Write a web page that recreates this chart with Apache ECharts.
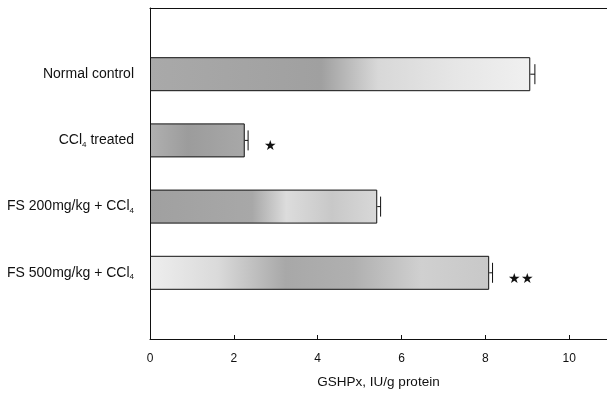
<!DOCTYPE html>
<html><head><meta charset="utf-8">
<script src="https://cdn.jsdelivr.net/npm/echarts@6/dist/echarts.min.js"></script>
<style>html,body{margin:0;padding:0;background:#fff;overflow:hidden}#c{width:607px;height:394px}</style>
</head><body><div id="c"></div>
<script>
const categories = ['', 'Normal control', 'CCl4 treated', 'FS 200mg/kg + CCl4', 'FS 500mg/kg + CCl4', ''];
const values = [null, 9.07, 2.26, 5.42, 8.09, null];
const errors = [null, 0.11, 0.08, 0.08, 0.08, null];
const signif = ['', '', '★', '', '★★', ''];
const xTicks = [0, 2, 4, 6, 8, 10];

const fills = [
  null,
  [[0,'#a9a9a9'],[0.45,'#a0a0a0'],[0.6,'#d8d8d8'],[0.8,'#e6e6e6'],[1,'#f0f0f0']],
  [[0,'#b0b0b0'],[0.4,'#9c9c9c'],[1,'#a8a8a8']],
  [[0,'#a0a0a0'],[0.45,'#a8a8a8'],[0.6,'#dcdcdc'],[0.8,'#c8c8c8'],[1,'#d8d8d8']],
  [[0,'#eeeeee'],[0.2,'#dadada'],[0.4,'#a8a8a8'],[0.6,'#b0b0b0'],[0.8,'#d0d0d0'],[1,'#c8c8c8']]
];

function fmtCat(s){ return s.replace(/CCl4/g, 'CCl{sub|4}'); }

const barData = values.map((v,i)=> v==null ? null : {
  value: v,
  itemStyle: {color: new echarts.graphic.LinearGradient(0,0,1,0, fills[i].map(s=>({offset:s[0],color:s[1]}))), borderColor:'#111', borderWidth:1},
  label: {show: signif[i] !== '', formatter: signif[i]}
});

const errData = values.map((v,i)=> v==null ? null : [v, i, errors[i]]).filter(d=>d);

const chart = echarts.init(document.getElementById('c'));
chart.setOption({
  animation: false,
  textStyle: {fontFamily: 'Liberation Sans, Arial, sans-serif'},
  grid: {left: 150, width: 457, top: 8, height: 336},
  xAxis: [{
    type: 'value', min: 0, max: 10.9, interval: 2,
    axisLine: {show: true, lineStyle: {color: '#111'}},
    axisTick: {show: true, inside: true, length: 4, lineStyle: {color: '#111'}},
    axisLabel: {color: '#111', fontSize: 12, margin: 14, showMaxLabel: false,
      formatter: v => xTicks.includes(v) ? String(v) : ''},
    splitLine: {show: false},
    name: 'GSHPx, IU/g protein', nameLocation: 'middle', nameGap: 36,
    nameTextStyle: {color: '#111', fontSize: 13.5}
  }, {
    type: 'value', position: 'top', min: 0, max: 10.9,
    axisLine: {show: true, onZero: false, lineStyle: {color: '#111'}},
    axisTick: {show: false}, axisLabel: {show: false}, splitLine: {show: false}
  }],
  yAxis: {
    type: 'category', data: categories, inverse: true, boundaryGap: false,
    axisLine: {show: true, lineStyle: {color: '#111'}},
    axisTick: {show: false},
    axisLabel: {color: '#111', fontSize: 14, margin: 16,
      formatter: v => fmtCat(v),
      rich: {sub: {fontSize: 8, padding: [8,0,0,0], color: '#111'}}}
  },
  series: [
    {
      type: 'bar', data: barData, barWidth: 34,
      label: {position: 'right', distance: 19, offset: [0, 6], color: '#111', fontSize: 14}
    },
    {
      type: 'custom', data: errData,
      renderItem: function(params, api){
        const v = api.value(0), c = api.value(1), e = api.value(2);
        const p0 = api.coord([v, c]);
        const p1 = api.coord([v + e, c]);
        return {type: 'group', children: [
          {type: 'line', shape: {x1: p0[0], y1: p0[1], x2: p1[0], y2: p1[1]}, style: {stroke: '#111', lineWidth: 1}},
          {type: 'line', shape: {x1: p1[0], y1: p1[1]-10, x2: p1[0], y2: p1[1]+10}, style: {stroke: '#111', lineWidth: 1}}
        ]};
      },
      z: 5
    }
  ]
});
</script></body></html>
